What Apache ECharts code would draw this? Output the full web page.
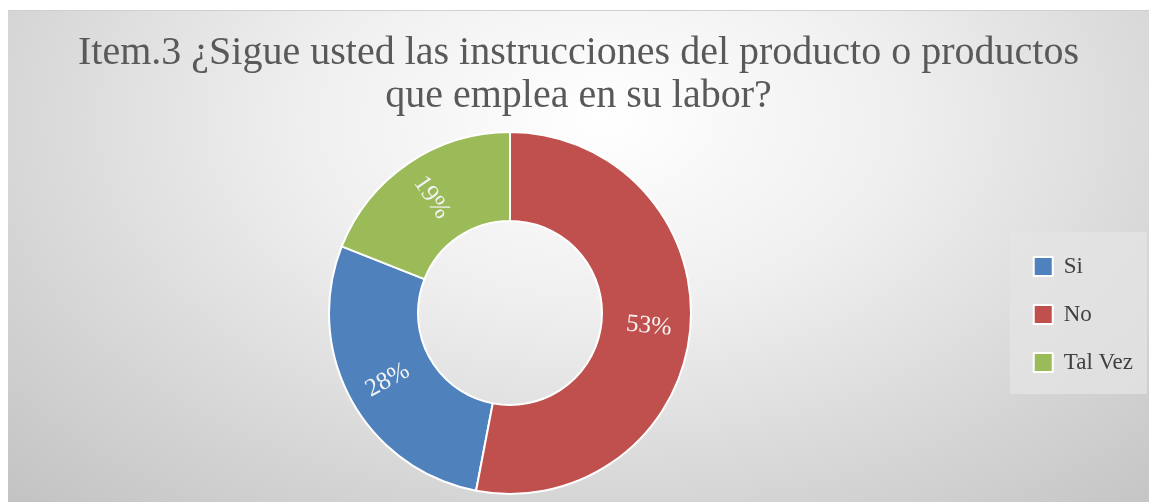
<!DOCTYPE html>
<html>
<head>
<meta charset="utf-8">
<script src="https://cdn.jsdelivr.net/npm/echarts@6/dist/echarts.min.js"></script>
<style>
  html, body { margin: 0; padding: 0; background: #fff; }
  #chart {
    position: absolute;
    left: 8px;
    top: 10px;
    width: 1141px;
    height: 492px;
    border-top: 1px solid #d0d0d0;
    box-sizing: border-box;
    background: radial-gradient(ellipse 75% 110% at 52% 22%, #ffffff 0%, #efefef 35%, #d6d6d6 70%, #c2c2c2 100%);
  }
</style>
</head>
<body>
<div id="chart"></div>
<script>
// datos del gráfico
const categories = ["Si", "No", "Tal Vez"];
const values = [28, 53, 19];
const colors = ["#4f81bd", "#c0504d", "#9bbb59"];
const titleText = "Item.3 ¿Sigue usted las instrucciones del producto o productos\nque emplea en su labor?";

const chart = echarts.init(document.getElementById("chart"));

let pieData = categories.map((name, i) => {
  return { name: name, value: values[i], itemStyle: { color: colors[i] } };
});

let option = {
  animation: false,
  title: {
    text: titleText,
    left: "center",
    top: 16,
    textStyle: {
      fontFamily: "Liberation Serif",
      fontSize: 40,
      fontWeight: "normal",
      color: "#595959",
      lineHeight: 43,
    },
  },
  legend: {
    orient: "vertical",
    right: 2,
    top: 221,
    data: categories,
    icon: "rect",
    itemWidth: 19,
    itemHeight: 19,
    itemGap: 25,
    padding: [23, 14, 20, 23],
    backgroundColor: "rgba(228,228,228,0.75)",
    textStyle: {
      fontFamily: "Liberation Serif",
      fontSize: 23,
      color: "#404040",
      padding: [0, 0, 0, 6],
    },
    itemStyle: { borderColor: "#ffffff", borderWidth: 2 },
  },
  series: [
    {
      type: "pie",
      center: [502, 302],
      radius: [92, 181],
      startAngle: 158.4,
      clockwise: false,
      data: pieData,
      itemStyle: {
        borderColor: "#ffffff",
        borderWidth: 2,
      },
      label: {
        show: true,
        position: "inside",
        rotate: "radial",
        formatter: "{c}%",
        fontFamily: "Liberation Serif",
        fontSize: 25,
        color: "#f4f4f4",
      },
      labelLine: { show: false },
    },
  ],
};

chart.setOption(option);
</script>
</body>
</html>
